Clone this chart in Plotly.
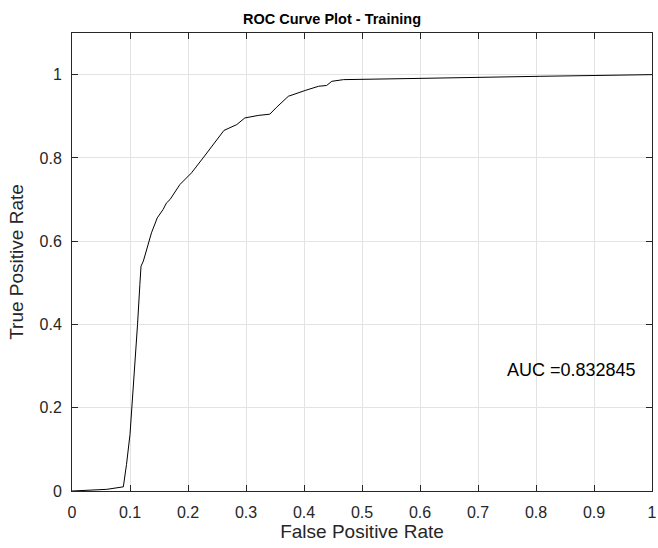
import plotly.graph_objects as go

fpr = [0.0, 0.03, 0.06, 0.0885, 0.094, 0.1, 0.106, 0.113, 0.117, 0.119, 0.123, 0.132,
       0.137, 0.147, 0.157, 0.163, 0.169, 0.186, 0.206, 0.226, 0.247, 0.262, 0.284,
       0.298, 0.321, 0.341, 0.353, 0.373, 0.402, 0.425, 0.439, 0.448, 0.468, 0.497,
       0.6, 0.807, 1.0]
tpr = [0.0, 0.002, 0.004, 0.010, 0.064, 0.136, 0.248, 0.40, 0.496, 0.54, 0.552, 0.60,
       0.62, 0.656, 0.676, 0.692, 0.700, 0.736, 0.764, 0.80, 0.84, 0.866, 0.88,
       0.896, 0.902, 0.905, 0.922, 0.948, 0.962, 0.972, 0.974, 0.984, 0.988, 0.989,
       0.991, 0.996, 1.0]
x_ticks = [0, 0.1, 0.2, 0.3, 0.4, 0.5, 0.6, 0.7, 0.8, 0.9, 1]
x_tick_labels = ["0", "0.1", "0.2", "0.3", "0.4", "0.5", "0.6", "0.7", "0.8", "0.9", "1"]
y_ticks = [0, 0.2, 0.4, 0.6, 0.8, 1]
y_tick_labels = ["0", "0.2", "0.4", "0.6", "0.8", "1"]
auc_text = "AUC =0.832845"

FONT = "Liberation Sans, Arial, sans-serif"
AX = "#262626"
GRID = "#e3e3e3"

fig = go.Figure()
fig.add_trace(go.Scatter(x=fpr, y=tpr, mode="lines",
                         line=dict(color="black", width=1), showlegend=False,
                         hoverinfo="skip"))

axis_common = dict(showline=True, linecolor=AX, linewidth=1, mirror="allticks",
                   ticks="inside", ticklen=6, tickcolor=AX, showgrid=True,
                   gridcolor=GRID, gridwidth=1, zeroline=False,
                   tickfont=dict(family=FONT, size=16, color=AX))

fig.update_xaxes(range=[0, 1], tickvals=x_ticks, ticktext=x_tick_labels,
                 ticklabelstandoff=7,
                 title=dict(text="False Positive Rate", font=dict(family=FONT, size=19, color=AX),
                            standoff=3),
                 **axis_common)
fig.update_yaxes(range=[0, 1.1], tickvals=y_ticks, ticktext=y_tick_labels,
                 ticklabelstandoff=6,
                 title=dict(text="True Positive Rate", font=dict(family=FONT, size=19, color=AX),
                            standoff=10),
                 **axis_common)

fig.add_annotation(x=0.747, y=0.29, xref="x", yref="y", text=auc_text, showarrow=False,
                   xanchor="left", yanchor="middle",
                   font=dict(family=FONT, size=18, color="black"))

fig.add_annotation(x=0.448, y=1.0, xref="paper", yref="paper", yshift=4,
                   text="<b>ROC Curve Plot - Training</b>", showarrow=False,
                   xanchor="center", yanchor="bottom",
                   font=dict(family=FONT, size=14.5, color="black"))

fig.update_layout(width=658, height=548, margin=dict(l=72, r=6, t=33, b=57, autoexpand=False),
                  plot_bgcolor="white", paper_bgcolor="white")

fig.write_html("out.html", config={"displayModeBar": False},
               post_script="document.body.style.margin='0';document.body.style.overflow='hidden';")
